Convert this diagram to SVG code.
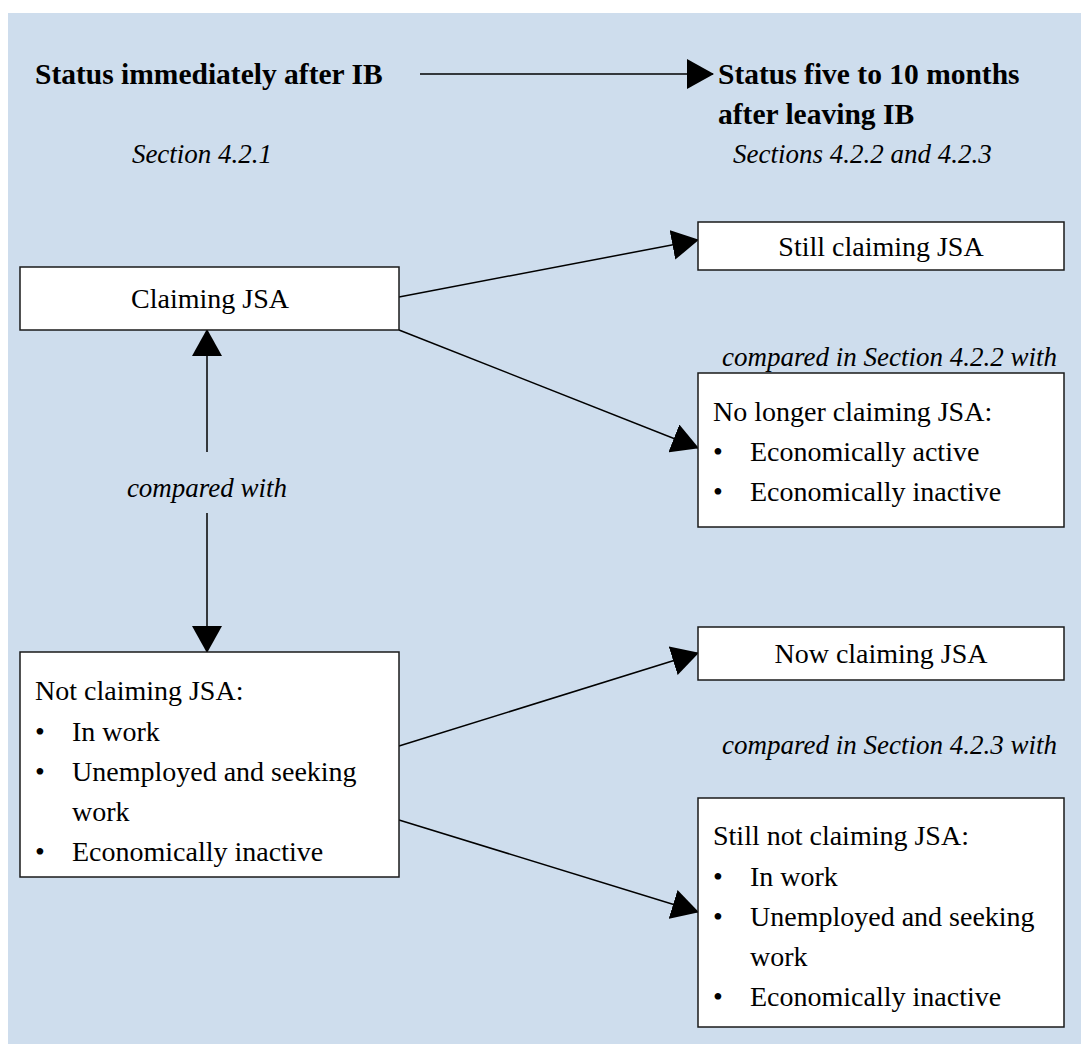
<svg xmlns="http://www.w3.org/2000/svg" width="1081" height="1044" viewBox="0 0 1081 1044">
<defs>
<style>
.bold{font-family:"Liberation Serif",serif;font-weight:bold;font-size:29.5px;fill:#000}
.it{font-family:"Liberation Serif",serif;font-style:italic;font-size:27px;fill:#000}
.t{font-family:"Liberation Serif",serif;font-size:28px;fill:#000}
.box{fill:#fff;stroke:#1a1a1a;stroke-width:1.5}
.ln{stroke:#000;stroke-width:1.5;fill:none}
.mid{text-anchor:middle}
</style>
<marker id="ah" markerUnits="userSpaceOnUse" markerWidth="28" markerHeight="30" refX="26" refY="15" orient="auto" viewBox="0 0 28 30">
<path d="M0,0 L27,15 L0,30 Z" fill="#000"/>
</marker>
</defs>
<rect x="8" y="13" width="1073" height="1031" fill="#cedded"/>
<g id="headers">
<text class="bold" x="35" y="84">Status immediately after IB</text>
<text class="bold" x="718" y="84">Status five to 10 months</text>
<text class="bold" x="718" y="124">after leaving IB</text>
<text class="it mid" x="202" y="163">Section 4.2.1</text>
<text class="it" x="733" y="163">Sections 4.2.2 and 4.2.3</text>
<text class="it" x="722" y="366">compared in Section 4.2.2 with</text>
<text class="it mid" x="207" y="497">compared with</text>
<text class="it" x="722" y="754">compared in Section 4.2.3 with</text>
</g>
<g id="connectors">
<line class="ln" x1="420" y1="74" x2="713" y2="74" marker-end="url(#ah)"/>
<line class="ln" x1="399" y1="297" x2="698" y2="240" marker-end="url(#ah)"/>
<line class="ln" x1="399" y1="330" x2="698" y2="448" marker-end="url(#ah)"/>
<line class="ln" x1="207" y1="452" x2="207" y2="330" marker-end="url(#ah)"/>
<line class="ln" x1="207" y1="513" x2="207" y2="652" marker-end="url(#ah)"/>
<line class="ln" x1="399" y1="746" x2="698" y2="653" marker-end="url(#ah)"/>
<line class="ln" x1="399" y1="820" x2="698" y2="912" marker-end="url(#ah)"/>
</g>
<g id="n-claiming">
<rect class="box" x="20" y="267" width="379" height="63"/>
<text class="t mid" x="210" y="308">Claiming JSA</text>
</g>
<g id="n-still-claiming">
<rect class="box" x="698" y="222" width="366" height="48"/>
<text class="t mid" x="881" y="256">Still claiming JSA</text>
</g>
<g id="n-no-longer">
<rect class="box" x="698" y="373" width="366" height="154"/>
<text class="t" x="713" y="421">No longer claiming JSA:</text>
<text class="t" x="713" y="461">•</text><text class="t" x="750" y="461">Economically active</text>
<text class="t" x="713" y="501">•</text><text class="t" x="750" y="501">Economically inactive</text>
</g>
<g id="n-not-claiming">
<rect class="box" x="20" y="652" width="379" height="225"/>
<text class="t" x="35" y="700">Not claiming JSA:</text>
<text class="t" x="35" y="741">•</text><text class="t" x="72" y="741">In work</text>
<text class="t" x="35" y="781">•</text><text class="t" x="72" y="781">Unemployed and seeking</text>
<text class="t" x="72" y="821">work</text>
<text class="t" x="35" y="861">•</text><text class="t" x="72" y="861">Economically inactive</text>
</g>
<g id="n-now-claiming">
<rect class="box" x="698" y="627" width="366" height="53"/>
<text class="t mid" x="881" y="663">Now claiming JSA</text>
</g>
<g id="n-still-not">
<rect class="box" x="698" y="798" width="366" height="229"/>
<text class="t" x="713" y="845">Still not claiming JSA:</text>
<text class="t" x="713" y="886">•</text><text class="t" x="750" y="886">In work</text>
<text class="t" x="713" y="926">•</text><text class="t" x="750" y="926">Unemployed and seeking</text>
<text class="t" x="750" y="966">work</text>
<text class="t" x="713" y="1006">•</text><text class="t" x="750" y="1006">Economically inactive</text>
</g>
</svg>
